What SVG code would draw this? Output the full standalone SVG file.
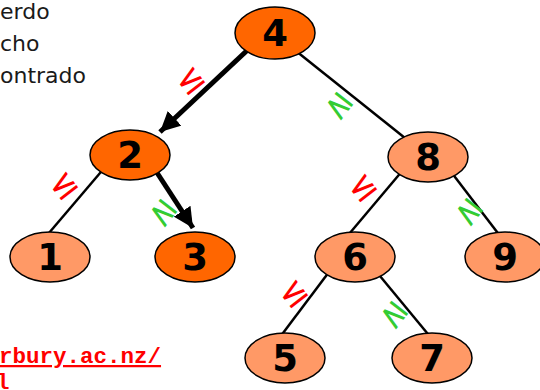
<svg xmlns="http://www.w3.org/2000/svg" width="540" height="390" viewBox="0 0 540 390">
  <defs>
    <style>
      .node { stroke: #000; stroke-width: 1.5; }
      .hot { fill: #FF6600; }
      .cool { fill: #FF9966; }
      .num { font-family: "DejaVu Sans", "Liberation Sans", sans-serif; font-weight: bold; font-size: 37px; text-anchor: middle; fill: #000; }
      .edge { stroke: #000; stroke-width: 2.5; fill: none; }
      .path { stroke: #000; stroke-width: 5; fill: none; }
      .le { font-family: "DejaVu Sans", sans-serif; font-size: 34px; fill: #FF0000; text-anchor: middle; }
      .ge { font-family: "DejaVu Sans", sans-serif; font-size: 34px; fill: #33CC33; text-anchor: middle; }
      .legend { font-family: "DejaVu Sans", "Liberation Sans", sans-serif; font-size: 22px; fill: #1a1a1a; }
      .url { font-family: "Liberation Mono", "Courier New", monospace; font-weight: bold; font-size: 22.5px; fill: #FF0000; text-decoration: underline; }
    </style>
    <marker id="head" viewBox="0 0 20 20" refX="20" refY="10" markerWidth="20" markerHeight="20" markerUnits="userSpaceOnUse" orient="auto">
      <path d="M0,0 L20,10 L0,20 Z" fill="#000"/>
    </marker>
  </defs>

  <!-- legend text (clipped at the left edge) -->
  <g id="legend">
    <text class="legend" x="0" y="19">erdo</text>
    <text class="legend" x="0" y="51">cho</text>
    <text class="legend" x="0" y="83">ontrado</text>
  </g>

  <!-- source link (clipped) -->
  <g id="link">
    <text class="url" x="-1" y="363">rbury.ac.nz/</text>
    <text class="url" x="-4" y="389">l</text>
  </g>

  <!-- connectors -->
  <g id="connectors">
    <line class="edge" x1="296" y1="51" x2="410" y2="142"/>
    <line class="edge" x1="106" y1="166" x2="43" y2="240"/>
    <line class="edge" x1="403" y1="170" x2="344" y2="240"/>
    <line class="edge" x1="445" y1="164" x2="507" y2="245"/>
    <line class="edge" x1="332" y1="268" x2="274" y2="345"/>
    <line class="edge" x1="375" y1="270" x2="437" y2="345"/>
    <line class="path" x1="255" y1="43" x2="160" y2="132" marker-end="url(#head)"/>
    <line class="path" x1="152" y1="165" x2="193" y2="228" marker-end="url(#head)"/>
  </g>

  <!-- comparison labels on the edges -->
  <g id="labels">
    <text class="le" transform="translate(190,80) rotate(-38)" y="11">≤</text>
    <text class="le" transform="translate(63,185) rotate(-38)" y="11">≤</text>
    <text class="le" transform="translate(362,187) rotate(-38)" y="11">≤</text>
    <text class="le" transform="translate(293,293) rotate(-38)" y="11">≤</text>
    <text class="ge" transform="translate(338,107) rotate(218)" y="11">≥</text>
    <text class="ge" transform="translate(162,214) rotate(218)" y="11">≥</text>
    <text class="ge" transform="translate(468,213) rotate(218)" y="11">≥</text>
    <text class="ge" transform="translate(393,316) rotate(218)" y="11">≥</text>
  </g>

  <!-- tree nodes -->
  <g id="n4"><ellipse class="node hot" cx="275" cy="33" rx="40" ry="26"/><text class="num" x="275" y="46">4</text></g>
  <g id="n2"><ellipse class="node hot" cx="130" cy="155" rx="40" ry="25"/><text class="num" x="130" y="168">2</text></g>
  <g id="n8"><ellipse class="node cool" cx="428" cy="157" rx="40" ry="25"/><text class="num" x="428" y="170">8</text></g>
  <g id="n1"><ellipse class="node cool" cx="50" cy="257" rx="40" ry="25"/><text class="num" x="50" y="270">1</text></g>
  <g id="n3"><ellipse class="node hot" cx="195" cy="257" rx="40" ry="25"/><text class="num" x="195" y="270">3</text></g>
  <g id="n6"><ellipse class="node cool" cx="355" cy="257" rx="40" ry="25"/><text class="num" x="355" y="270">6</text></g>
  <g id="n9"><ellipse class="node cool" cx="505" cy="257" rx="40" ry="25"/><text class="num" x="505" y="270">9</text></g>
  <g id="n5"><ellipse class="node cool" cx="285" cy="358" rx="40" ry="25"/><text class="num" x="285" y="371">5</text></g>
  <g id="n7"><ellipse class="node cool" cx="432" cy="358" rx="40" ry="25"/><text class="num" x="432" y="371">7</text></g>
</svg>
